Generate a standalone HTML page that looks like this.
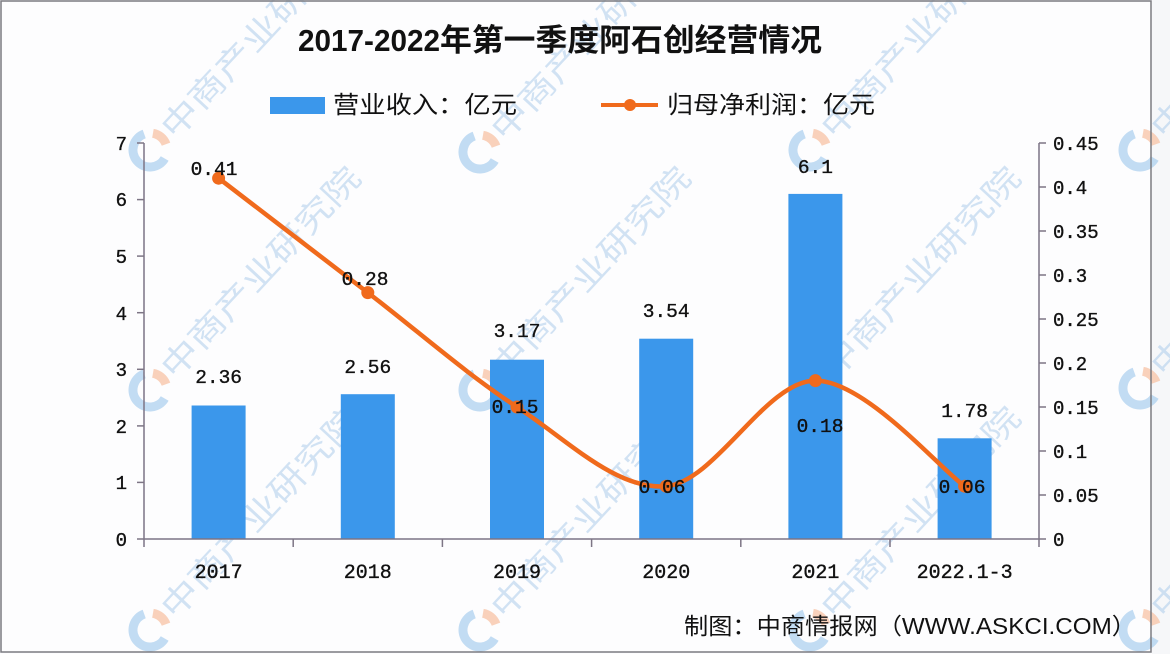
<!DOCTYPE html>
<html>
<head>
<meta charset="utf-8">
<style>
html,body{margin:0;padding:0;background:#fdfdfe;}
svg{display:block;}
.num{font-family:"Liberation Mono","DejaVu Sans Mono",monospace;fill:#111;stroke:#111;stroke-width:0.35;}
.cjk{font-family:"Liberation Sans","Noto Sans CJK SC",sans-serif;fill:#111;}
.wm{font-family:"Noto Sans CJK SC","WenQuanYi Zen Hei",sans-serif;fill:#a6c8ea;opacity:0.5;font-size:32px;}
</style>
</head>
<body>
<svg width="1170" height="654" viewBox="0 0 1170 654" xmlns="http://www.w3.org/2000/svg">
<defs>
  <g id="logo">
    <path d="M14.7,8.5 A17,17 0 1 1 -5.8,-16" fill="none" stroke="#a8cdee" stroke-width="9" opacity="0.7"/>
    <path d="M2.95,-16.7 A17,17 0 0 1 16,-5.8" fill="none" stroke="#f8c6aa" stroke-width="9" opacity="0.8"/>
  </g>
  <g id="wmk">
    <use href="#logo"/>
    <text class="wm" transform="rotate(-47)" x="24" y="12" textLength="275" lengthAdjust="spacingAndGlyphs">中商产业研究院</text>
  </g>
  <clipPath id="frameclip"><rect x="0" y="0" width="1170" height="654"/></clipPath>
</defs>

<rect x="0" y="0" width="1170" height="654" fill="#fdfdfe"/>
<rect x="1152" y="0" width="18" height="654" fill="#f6f7f9"/>

<g clip-path="url(#frameclip)">
  <use href="#wmk" x="150" y="150"/>
  <use href="#wmk" x="480" y="152"/>
  <use href="#wmk" x="810" y="150"/>
  <use href="#wmk" x="1140" y="150"/>
  <use href="#wmk" x="150" y="390"/>
  <use href="#wmk" x="480" y="390"/>
  <use href="#wmk" x="810" y="390"/>
  <use href="#wmk" x="1140" y="388"/>
  <use href="#wmk" x="150" y="630"/>
  <use href="#wmk" x="480" y="630"/>
  <use href="#wmk" x="810" y="630"/>
  <use href="#wmk" x="1140" y="630"/>
</g>

<rect x="1" y="1" width="1150" height="651" fill="none" stroke="#7b7b80" stroke-width="1.5"/>

<text class="cjk" x="298" y="51" font-size="31" font-weight="700" textLength="142" lengthAdjust="spacingAndGlyphs">2017-2022</text>
<text class="cjk" x="440" y="51" font-size="31" font-weight="700" textLength="382" lengthAdjust="spacingAndGlyphs">年第一季度阿石创经营情况</text>

<rect x="270" y="97" width="55" height="17" fill="#3b97eb"/>
<text class="cjk" x="333" y="113" font-size="24" textLength="184" lengthAdjust="spacingAndGlyphs">营业收入：亿元</text>
<line x1="601" y1="105" x2="658" y2="105" stroke="#f06a1c" stroke-width="4"/>
<circle cx="630" cy="105" r="6" fill="#f06a1c"/>
<text class="cjk" x="667" y="113" font-size="24" textLength="208" lengthAdjust="spacingAndGlyphs">归母净利润：亿元</text>

<g fill="#3b97eb">
  <rect x="191.6" y="405.5" width="54" height="133.5"/>
  <rect x="340.8" y="394.2" width="54" height="144.8"/>
  <rect x="490" y="359.7" width="54" height="179.3"/>
  <rect x="639.2" y="338.7" width="54" height="200.3"/>
  <rect x="788.4" y="193.9" width="54" height="345.1"/>
  <rect x="937.6" y="438.3" width="54" height="100.7"/>
</g>

<g stroke="#7d7585" stroke-width="1.5" fill="none">
  <line x1="144" y1="143" x2="144" y2="547"/>
  <line x1="144" y1="539" x2="1039" y2="539"/>
  <line x1="1039" y1="143" x2="1039" y2="547"/>
  <line x1="137" y1="539" x2="144" y2="539"/>
  <line x1="137" y1="482.4" x2="144" y2="482.4"/>
  <line x1="137" y1="425.9" x2="144" y2="425.9"/>
  <line x1="137" y1="369.3" x2="144" y2="369.3"/>
  <line x1="137" y1="312.7" x2="144" y2="312.7"/>
  <line x1="137" y1="256.1" x2="144" y2="256.1"/>
  <line x1="137" y1="199.6" x2="144" y2="199.6"/>
  <line x1="137" y1="143" x2="144" y2="143"/>
  <line x1="1039" y1="539" x2="1046" y2="539"/>
  <line x1="1039" y1="495" x2="1046" y2="495"/>
  <line x1="1039" y1="451" x2="1046" y2="451"/>
  <line x1="1039" y1="407" x2="1046" y2="407"/>
  <line x1="1039" y1="363" x2="1046" y2="363"/>
  <line x1="1039" y1="319" x2="1046" y2="319"/>
  <line x1="1039" y1="275" x2="1046" y2="275"/>
  <line x1="1039" y1="231" x2="1046" y2="231"/>
  <line x1="1039" y1="187" x2="1046" y2="187"/>
  <line x1="1039" y1="143" x2="1046" y2="143"/>
  <line x1="293.2" y1="539" x2="293.2" y2="547"/>
  <line x1="442.4" y1="539" x2="442.4" y2="547"/>
  <line x1="591.6" y1="539" x2="591.6" y2="547"/>
  <line x1="740.8" y1="539" x2="740.8" y2="547"/>
  <line x1="890" y1="539" x2="890" y2="547"/>
</g>

<g class="num" font-size="19" text-anchor="end">
  <text x="127" y="546">0</text>
  <text x="127" y="489">1</text>
  <text x="127" y="433">2</text>
  <text x="127" y="376">3</text>
  <text x="127" y="320">4</text>
  <text x="127" y="263">5</text>
  <text x="127" y="206">6</text>
  <text x="127" y="150">7</text>
</g>

<g class="num" font-size="19">
  <text x="1053" y="546">0</text>
  <text x="1053" y="502">0.05</text>
  <text x="1053" y="458">0.1</text>
  <text x="1053" y="414">0.15</text>
  <text x="1053" y="370">0.2</text>
  <text x="1053" y="326">0.25</text>
  <text x="1053" y="282">0.3</text>
  <text x="1053" y="238">0.35</text>
  <text x="1053" y="194">0.4</text>
  <text x="1053" y="150">0.45</text>
</g>

<g class="num" font-size="20" text-anchor="middle">
  <text x="218.6" y="578">2017</text>
  <text x="367.8" y="578">2018</text>
  <text x="517" y="578">2019</text>
  <text x="666.2" y="578">2020</text>
  <text x="815.4" y="578">2021</text>
  <text x="964.6" y="578">2022.1-3</text>
</g>

<g class="num" font-size="19.5" text-anchor="middle">
  <text x="218.6" y="383">2.36</text>
  <text x="367.8" y="373">2.56</text>
  <text x="517" y="337">3.17</text>
  <text x="666.2" y="317">3.54</text>
  <text x="815.4" y="173">6.1</text>
  <text x="964.6" y="417">1.78</text>
</g>

<path d="M218.6,178.2 C243.5,197.3 318.1,254.5 367.8,292.6 C417.5,330.7 467.3,374.7 517,407 C566.7,439.3 616.5,490.6 666.2,486.2 C715.9,481.8 765.7,380.6 815.4,380.6 C865.1,380.6 939.7,468.6 964.6,486.2" fill="none" stroke="#f06a1c" stroke-width="4.5" stroke-linejoin="round" stroke-linecap="round"/>
<g fill="#f06a1c">
  <circle cx="218.6" cy="178.2" r="6.5"/>
  <circle cx="367.8" cy="292.6" r="6.5"/>
  <circle cx="517" cy="407" r="6.5"/>
  <circle cx="666.2" cy="486.2" r="6.5"/>
  <circle cx="815.4" cy="380.6" r="6.5"/>
  <circle cx="964.6" cy="486.2" r="6.5"/>
</g>

<g class="num" font-size="19.5" text-anchor="middle">
  <text x="214" y="175">0.41</text>
  <text x="365" y="285">0.28</text>
  <text x="515" y="413">0.15</text>
  <text x="662" y="493">0.06</text>
  <text x="820" y="432">0.18</text>
  <text x="962" y="493">0.06</text>
</g>

<text class="cjk" x="684" y="634" font-size="23" textLength="452" lengthAdjust="spacingAndGlyphs">制图：中商情报网（WWW.ASKCI.COM）</text>
</svg>
</body>
</html>
